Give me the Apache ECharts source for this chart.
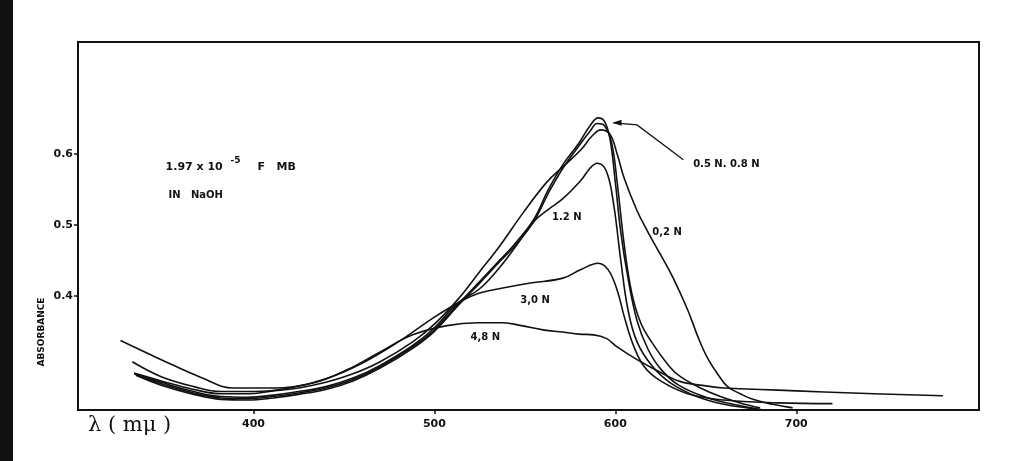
<!DOCTYPE html>
<html>
<head>
<meta charset="utf-8">
<script src="https://cdn.jsdelivr.net/npm/echarts@6/dist/echarts.min.js"></script>
<style>
html, body { margin: 0; padding: 0; background: #fff; }
#main { width: 1014px; height: 461px; }
</style>
</head>
<body>
<div id="main"></div>
<script>
// wavelength (mμ) and absorbance for each NaOH concentration
var wl02 = [334, 349, 367, 382, 397, 411, 425, 440, 455, 470, 488, 500, 513, 525, 536, 549, 562, 571, 581, 587, 592, 597, 601, 605, 612, 618, 625, 632, 640, 646, 651, 657, 662, 669, 676, 687, 698];
var ab02 = [0.291, 0.280, 0.268, 0.262, 0.262, 0.266, 0.270, 0.278, 0.290, 0.307, 0.335, 0.360, 0.395, 0.434, 0.470, 0.517, 0.560, 0.582, 0.606, 0.625, 0.634, 0.628, 0.600, 0.565, 0.520, 0.490, 0.458, 0.425, 0.380, 0.340, 0.312, 0.288, 0.272, 0.262, 0.254, 0.247, 0.242];

var wl05 = [335, 349, 367, 382, 397, 411, 425, 440, 455, 470, 488, 500, 513, 525, 536, 545, 555, 563, 571, 580, 586, 590.5, 594, 597, 600, 603, 607, 612, 618, 625, 635, 650, 665, 682];
var ab05 = [0.289, 0.276, 0.263, 0.256, 0.255, 0.258, 0.263, 0.270, 0.282, 0.300, 0.328, 0.352, 0.388, 0.420, 0.450, 0.475, 0.508, 0.550, 0.585, 0.616, 0.640, 0.651, 0.646, 0.622, 0.560, 0.490, 0.425, 0.365, 0.325, 0.297, 0.274, 0.257, 0.247, 0.239];

var wl08 = [335, 349, 367, 382, 397, 411, 425, 440, 455, 470, 488, 500, 513, 525, 536, 545, 555, 563, 571, 580, 586, 590, 594, 598, 601, 605, 609, 614, 620, 630, 636, 647, 658, 669, 680];
var ab08 = [0.288, 0.274, 0.261, 0.254, 0.253, 0.256, 0.261, 0.268, 0.280, 0.298, 0.326, 0.350, 0.386, 0.418, 0.448, 0.472, 0.505, 0.545, 0.580, 0.612, 0.632, 0.643, 0.640, 0.615, 0.560, 0.470, 0.405, 0.362, 0.335, 0.300, 0.286, 0.270, 0.258, 0.249, 0.242];

var wl12 = [334, 349, 367, 382, 397, 411, 425, 440, 455, 470, 488, 500, 513, 525, 536, 545, 555, 563, 571, 581, 586, 590, 595, 599, 603, 607, 612, 620, 630, 645, 660, 676];
var ab12 = [0.290, 0.278, 0.265, 0.258, 0.257, 0.260, 0.265, 0.272, 0.284, 0.302, 0.330, 0.355, 0.390, 0.410, 0.440, 0.470, 0.505, 0.522, 0.537, 0.563, 0.580, 0.587, 0.576, 0.530, 0.450, 0.380, 0.335, 0.302, 0.278, 0.258, 0.247, 0.241];

var wl30 = [333, 349, 367, 382, 400, 420, 440, 460, 480, 500, 513, 525, 540, 553, 571, 581, 590.5, 596, 601, 605, 610, 616, 625, 640, 660, 690, 720];
var ab30 = [0.307, 0.286, 0.272, 0.265, 0.265, 0.270, 0.283, 0.305, 0.335, 0.370, 0.390, 0.404, 0.412, 0.418, 0.425, 0.437, 0.446, 0.437, 0.408, 0.370, 0.330, 0.300, 0.280, 0.262, 0.253, 0.249, 0.248];

var wl48 = [326.5, 349, 371, 389, 411, 433, 452, 470, 488, 507, 524, 538, 548, 560, 571, 580, 588, 595, 601, 612, 625, 636, 650, 660, 680, 700, 731, 781];
var ab48 = [0.337, 0.310, 0.285, 0.270, 0.270, 0.277, 0.296, 0.321, 0.345, 0.358, 0.362, 0.362, 0.358, 0.352, 0.349, 0.346, 0.345, 0.340, 0.328, 0.310, 0.292, 0.279, 0.273, 0.270, 0.268, 0.266, 0.263, 0.259];

var xTicks = [400, 500, 600, 700];
var yTicks = [0.4, 0.5, 0.6];

function pairs(xs, ys) {
    var out = [];
    for (var i = 0; i < xs.length; i++) out.push([xs[i], ys[i]]);
    return out;
}

function curve(name, xs, ys) {
    return {
        name: name,
        type: 'line',
        data: pairs(xs, ys),
        showSymbol: false,
        smooth: 0.4,
        lineStyle: { color: '#111', width: 1.6 },
        silent: true
    };
}

var myChart = echarts.init(document.getElementById('main'));

var font = 'DejaVu Sans';

var option = {
    backgroundColor: '#fff',
    animation: false,
    grid: {
        left: 78, right: 35, top: 42, bottom: 51,
        show: true, borderColor: '#111', borderWidth: 2
    },
    xAxis: {
        type: 'value',
        min: 303, max: 801,
        axisLine: { lineStyle: { color: '#111', width: 2 } },
        axisTick: { show: true, customValues: xTicks, length: 4, lineStyle: { color: '#111', width: 1.5 } },
        axisLabel: { customValues: xTicks, color: '#111', fontFamily: font, fontWeight: 'bold', fontSize: 11, margin: 9 },
        splitLine: { show: false }
    },
    yAxis: {
        type: 'value',
        min: 0.239, max: 0.758,
        axisLine: { show: true, lineStyle: { color: '#111', width: 2 } },
        axisTick: { show: true, customValues: yTicks, length: 4, lineStyle: { color: '#111', width: 1.5 } },
        axisLabel: {
            customValues: yTicks, color: '#111', fontFamily: font, fontWeight: 'bold', fontSize: 11, margin: 5,
            formatter: function (v) { return v.toFixed(1); }
        },
        splitLine: { show: false }
    },
    series: [
        curve('0,2 N', wl02, ab02),
        curve('0,5 N', wl05, ab05),
        curve('0,8 N', wl08, ab08),
        curve('1,2 N', wl12, ab12),
        curve('3,0 N', wl30, ab30),
        curve('4,8 N', wl48, ab48)
    ]
};

myChart.setOption(option);

// annotations placed in data coordinates
function px(x, y) { return myChart.convertToPixel({ gridIndex: 0 }, [x, y]); }

function label(x, y, txt, size) {
    var p = px(x, y);
    return {
        type: 'text', x: p[0], y: p[1],
        style: { text: txt, fill: '#111', font: 'bold ' + (size || 10) + 'px "' + font + '"', verticalAlign: 'middle' }
    };
}

var t1 = px(351.4, 0.582);
var a0 = px(637.6, 0.592), a1 = px(612, 0.641), a2 = px(599, 0.644);

myChart.setOption({
    graphic: [
        { type: 'rect', shape: { x: 0, y: 0, width: 13, height: 461 }, style: { fill: '#111' } },
        {
            type: 'text', x: t1[0], y: t1[1],
            style: { text: '1.97 x 10', fill: '#111', font: 'bold 11px "' + font + '"', verticalAlign: 'middle' }
        },
        {
            type: 'text', x: t1[0] + 65, y: t1[1] - 6,
            style: { text: '-5', fill: '#111', font: 'bold 9px "' + font + '"', verticalAlign: 'middle' }
        },
        {
            type: 'text', x: t1[0] + 92, y: t1[1],
            style: { text: 'F   MB', fill: '#111', font: 'bold 11px "' + font + '"', verticalAlign: 'middle' }
        },
        label(353, 0.541, 'IN   NaOH', 10),
        label(643, 0.585, '0.5 N. 0.8 N', 10),
        label(565, 0.510, '1.2 N', 10),
        label(620.4, 0.489, '0,2 N', 10),
        label(547.5, 0.394, '3,0 N', 10),
        label(520, 0.341, '4,8 N', 10),
        {
            type: 'polyline',
            shape: { points: [a0, a1, a2] },
            style: { stroke: '#111', lineWidth: 1.3, fill: null }
        },
        {
            type: 'polygon',
            shape: { points: [[a2[0] - 1, a2[1]], [a2[0] + 8, a2[1] - 3], [a2[0] + 8, a2[1] + 3]] },
            style: { fill: '#111' }
        },
        {
            type: 'text', x: 42, y: 332, rotation: Math.PI / 2,
            style: { text: 'ABSORBANCE', fill: '#111', font: 'bold 9px "' + font + '"', align: 'center', verticalAlign: 'middle' }
        },
        {
            type: 'text', x: 88, y: 426,
            style: { text: 'λ ( mμ )', fill: '#111', font: '21px "DejaVu Serif"', verticalAlign: 'middle' }
        }
    ]
});
</script>
</body>
</html>
